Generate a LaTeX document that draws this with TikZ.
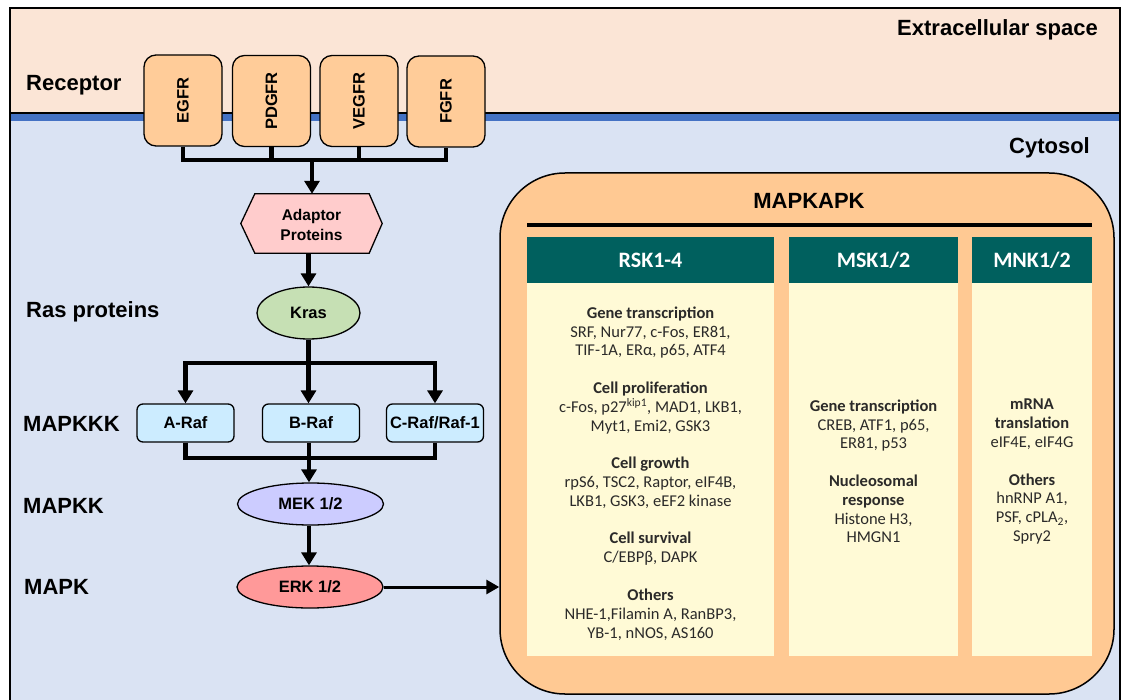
\documentclass[tikz,border=0pt]{standalone}
\usepackage{fontspec}
\setmainfont{Liberation Sans}
\newfontfamily\carl{Carlito}
\usetikzlibrary{arrows.meta,shapes.geometric}
\pgfdeclarelayer{back}
\pgfdeclarelayer{bg}
\pgfsetlayers{back,bg,main}
\definecolor{extra}{HTML}{FBE5D6}
\definecolor{cyto}{HTML}{DAE3F3}
\definecolor{memb}{HTML}{4472C4}
\definecolor{recfill}{HTML}{FFCC99}
\definecolor{hexfill}{HTML}{FFCCCC}
\definecolor{krasfill}{HTML}{C6E0B4}
\definecolor{raffill}{HTML}{CCECFF}
\definecolor{mekfill}{HTML}{CCCCFF}
\definecolor{erkfill}{HTML}{FF9999}
\definecolor{apkfill}{HTML}{FFC993}
\definecolor{hdrfill}{HTML}{00605E}
\definecolor{bodyfill}{HTML}{FFFAD6}
\definecolor{bodytext}{HTML}{2B2A29}
\begin{document}
\begin{tikzpicture}[x=1pt,y=-1pt,
  lab/.style={font=\bfseries\fontsize{22}{26}\selectfont, inner sep=0pt},
  recbox/.style={draw=black, line width=1.3pt, fill=recfill, rounded corners=12pt,
    minimum width=78pt, minimum height=91pt, inner sep=0pt},
  rectxt/.style={rotate=90, font=\bfseries\fontsize{16.5}{18}\selectfont, inner sep=0pt},
  conn/.style={line width=4.5pt},
  arr/.style={line width=4.5pt, -{Triangle[length=13pt,width=15pt]}},
  arrthin/.style={line width=3pt, -{Triangle[length=13pt,width=14pt]}},
  rafbox/.style={draw=black, line width=1.3pt, fill=raffill, rounded corners=6pt,
    minimum width=97pt, minimum height=38pt, inner sep=0pt,
    font=\bfseries\fontsize{16.5}{18}\selectfont},
  ell/.style={ellipse, draw=black, line width=1.3pt, inner sep=0pt,
    font=\bfseries\fontsize{16.5}{18}\selectfont},
  hdr/.style={fill=hdrfill, text=white, minimum height=46pt, inner sep=0pt,
    font=\carl\bfseries\fontsize{22}{24}\selectfont},
  body/.style={fill=bodyfill, text=bodytext, minimum height=373pt, inner sep=0pt,
    align=center, font=\carl\fontsize{16.5}{18.8}\selectfont}
]
\useasboundingbox (0,0) rectangle (1123,700);
\begin{pgfonlayer}{back}
  \fill[white] (0,0) rectangle (1123,700);
  \fill[extra] (10,8) rectangle (1120,113);
  \fill[cyto] (10,121) rectangle (1120,712);
  \fill[memb] (10,113) rectangle (1120,121.5);
  \draw[line width=1.2pt] (10,113) -- (1120,113);
  \draw[line width=2pt] (10,712) -- (10,8) -- (1120,8) -- (1120,712);
\end{pgfonlayer}

% side labels
\node[lab, anchor=west] (lrec) at (26,85) {Receptor};
\node[lab, anchor=west] (lras) at (26,312) {Ras proteins};
\node[lab, anchor=west] (lkkk) at (23,424) {MAPKKK};
\node[lab, anchor=west] (lkk) at (23,506) {MAPKK};
\node[lab, anchor=west] (lk) at (24,587) {MAPK};
\node[lab, anchor=east] (lext) at (1098,30) {Extracellular space};
\node[lab, anchor=east] (lcyt) at (1090,148) {Cytosol};

% receptors
\node[recbox] (r1) at (183,100.5) {};
\node[recbox] (r2) at (271.5,101) {};
\node[recbox] (r3) at (359,101) {};
\node[recbox] (r4) at (446,101.5) {};
\node[rectxt] (r1t) at (r1) {EGFR};
\node[rectxt] (r2t) at (r2) {PDGFR};
\node[rectxt] (r3t) at (r3) {VEGFR};
\node[rectxt] (r4t) at (r4) {FGFR};

\coordinate (bus) at (312,160);
\draw[conn] (r1.south) |- (bus) -| (r4.south);
\draw[conn] (r2.south) -- (r2.south |- bus);
\draw[conn] (r3.south) -- (r3.south |- bus);

% adaptor
\node[font=\bfseries\fontsize{15.5}{20}\selectfont, align=center, minimum width=141pt,
  minimum height=59pt, inner sep=0pt] (adaptor) at (311.5,224.5) {Adaptor\\Proteins};
\begin{pgfonlayer}{bg}
  \filldraw[fill=hexfill, line width=1.3pt] ([yshift=1pt]adaptor.west) -- ([xshift=14pt,yshift=1pt]adaptor.north west)
    -- ([xshift=-13pt,yshift=1pt]adaptor.north east) -- ([yshift=1pt]adaptor.east)
    -- ([xshift=-13pt,yshift=1pt]adaptor.south east) -- ([xshift=14pt,yshift=1pt]adaptor.south west) -- cycle;
\end{pgfonlayer}
\draw[arr] (bus) -- ([yshift=1pt]bus |- adaptor.north);

% Kras
\node[ell, fill=krasfill, minimum width=103pt, minimum height=52pt] (kras) at (308.5,313) {Kras};
\draw[arr] ([yshift=1pt]adaptor.south -| kras.north) -- (kras.north);

% Raf
\node[rafbox] (araf) at (185.5,423) {A-Raf};
\node[rafbox] (braf) at (311,423) {B-Raf};
\node[rafbox] (craf) at (435,423) {C-Raf/Raf-1};
\coordinate (split) at (308.5,363);
\draw[conn] (kras.south) -- (split);
\draw[arr] (split) -| (araf.north);
\draw[arr] (split) -| (craf.north);
\draw[arr] (split) -- (split |- braf.north);

% MEK, ERK
\node[ell, fill=mekfill, minimum width=146pt, minimum height=42pt] (mek) at (310.5,504) {MEK 1/2};
\node[ell, fill=erkfill, minimum width=146pt, minimum height=42pt] (erk) at (310,587) {ERK 1/2};
\coordinate (merge) at (309,458);
\draw[conn] (araf.south) |- (merge) -| (craf.south);
\draw[arr] (braf.south -| merge) -- (merge |- mek.north);
\draw[arr] (mek.south -| merge) -- (merge |- erk.north);

% MAPKAPK
\node[draw=black, line width=1.5pt, fill=apkfill, rounded corners=65pt, minimum width=614pt,
  minimum height=521pt, inner sep=0pt] (mapk) at (807,433.5) {};
\draw[arrthin] (erk.east) -- (erk.east -| mapk.west);
\node[lab] (title) at (809,201) {MAPKAPK};
\coordinate (rulel) at (527,225);
\coordinate (ruler) at (1092,225);
\draw[line width=4.5pt] (rulel) -- (ruler);

\node[hdr, minimum width=247pt] (h1) at (650.5,260) {RSK1-4};
\node[hdr, minimum width=169pt] (h2) at (873.5,260) {MSK1/2};
\node[hdr, minimum width=120pt] (h3) at (1032,260) {MNK1/2};

\node[body, minimum width=247pt] (b1) at (650.5,469.5) {%
\rule{0pt}{19.5pt}{\bfseries Gene transcription}\\SRF, Nur77, c-Fos, ER81,\\TIF-1A, ERα, p65, ATF4\\[18.8pt]%
{\bfseries Cell proliferation}\\c-Fos, p27\textsuperscript{kip1}, MAD1, LKB1,\\Myt1, Emi2, GSK3\\[18.8pt]%
{\bfseries Cell growth}\\rpS6, TSC2, Raptor, eIF4B,\\LKB1, GSK3, eEF2 kinase\\[18.8pt]%
{\bfseries Cell survival}\\C/EBPβ, DAPK\\[18.8pt]%
{\bfseries Others}\\NHE-1,Filamin A, RanBP3,\\YB-1, nNOS, AS160};
\node[body, minimum width=169pt] (b2) at (873.5,469.5) {%
\rule{0pt}{15.5pt}{\bfseries Gene transcription}\\CREB, ATF1, p65,\\ER81, p53\\[18.8pt]%
{\bfseries Nucleosomal}\\{\bfseries response}\\Histone H3,\\HMGN1};
\node[body, minimum width=120pt] (b3) at (1032,469.5) {%
\rule{0pt}{15pt}{\bfseries mRNA}\\{\bfseries translation}\\eIF4E, eIF4G\\[18.8pt]%
{\bfseries Others}\\hnRNP A1,\\PSF, cPLA\textsubscript{2},\\Spry2};
\end{tikzpicture}
\end{document}
